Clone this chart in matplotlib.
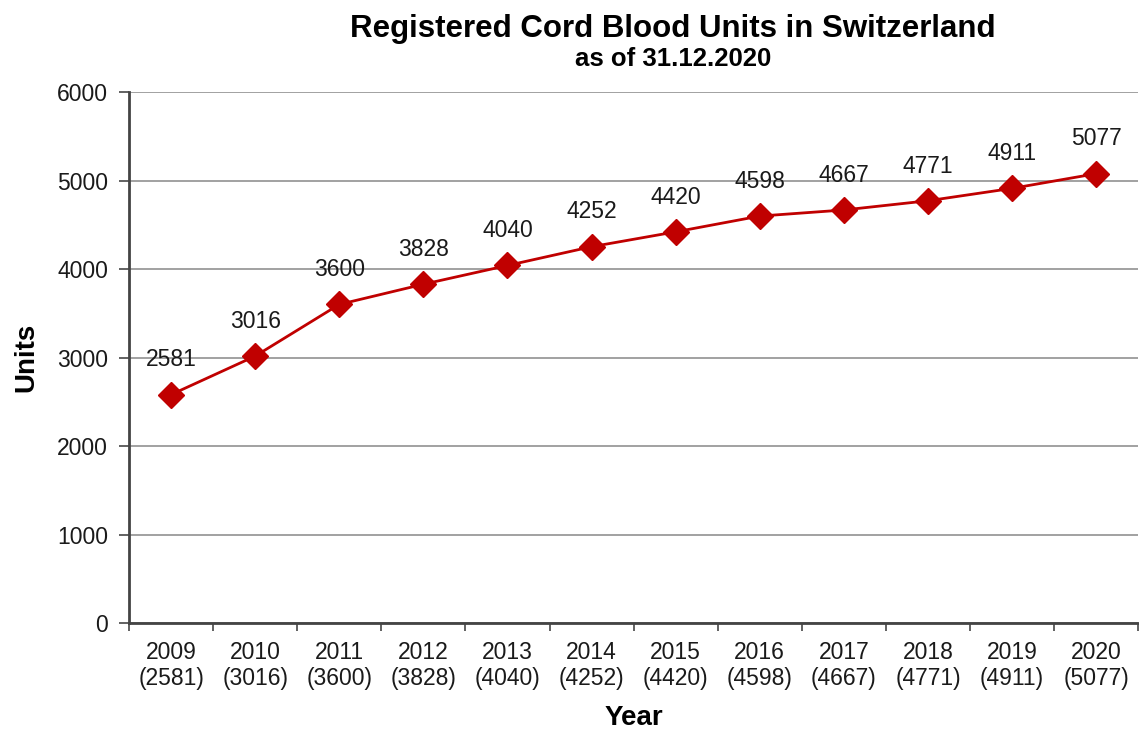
import numpy as np
import matplotlib
matplotlib.use("Agg")
import matplotlib.pyplot as plt

years = ["2009", "2010", "2011", "2012", "2013", "2014", "2015", "2016", "2017", "2018", "2019", "2020"]
units = [2581, 3016, 3600, 3828, 4040, 4252, 4420, 4598, 4667, 4771, 4911, 5077]

plt.rcParams['font.family'] = ['Liberation Sans', 'DejaVu Sans']

fig = plt.figure(figsize=(11.39, 7.33), dpi=100)
ax = fig.add_axes([0.1133, 0.150, 0.886, 0.7245])

x = np.arange(len(years))
red = '#C00000'
ax.plot(x, units, color=red, lw=2, marker='D', ms=13, mfc=red, mec=red, zorder=3)

for xi, v in zip(x, units):
    ax.annotate(str(v), (xi, v), xytext=(0, 25), textcoords='offset points',
                ha='center', va='center', fontsize=16.5, color='#1a1a1a')

ax.set_xlim(-0.5, len(years) - 0.5)
ax.set_ylim(0, 6000)
ax.set_yticks(np.arange(0, 6001, 1000))
ax.yaxis.grid(True, color='#9a9a9a', lw=1.3)
ax.set_axisbelow(True)

# tick marks between categories, labels in the middle
ax.set_xticks(np.arange(-0.5, len(years), 1.0))
ax.set_xticklabels([])
ax.set_xticks(x, minor=True)
ax.set_xticklabels(["%s\n(%d)" % (y, v) for y, v in zip(years, units)], minor=True,
                   fontsize=16.5, color='#1a1a1a', linespacing=1.15)
ax.tick_params(axis='x', which='major', length=6, width=1.3, color='#555555')
ax.tick_params(axis='x', which='minor', length=0, pad=13)
ax.tick_params(axis='y', length=7, width=1.3, color='#555555', labelsize=16.5, labelcolor='#1a1a1a', pad=8)

for s in ['top', 'right']:
    ax.spines[s].set_visible(False)
for s in ['left', 'bottom']:
    ax.spines[s].set_color('#444444')
    ax.spines[s].set_linewidth(2)

ax.set_ylabel("Units", fontsize=20, fontweight='bold', labelpad=13)
ax.set_xlabel("Year", fontsize=20, fontweight='bold', labelpad=11)

fig.text(0.591, 0.960, "Registered Cord Blood Units in Switzerland", ha='center', va='center',
         fontsize=22.5, fontweight='bold')
fig.text(0.591, 0.919, "as of 31.12.2020", ha='center', va='center', fontsize=18.5, fontweight='bold')

fig.savefig("out.png", dpi=100)
